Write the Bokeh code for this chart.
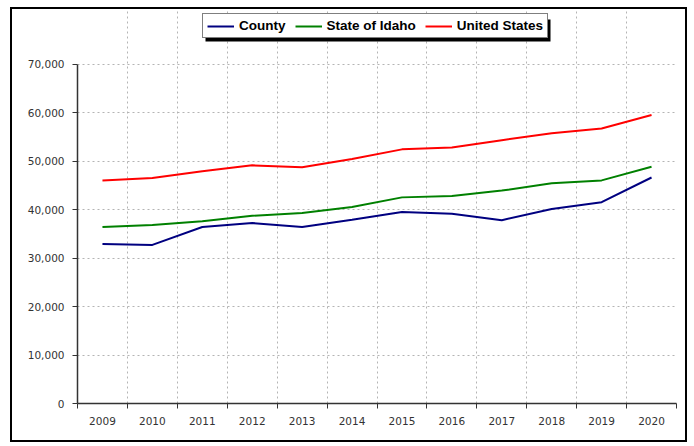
from bokeh.plotting import figure
from bokeh.models import (ColumnDataSource, FixedTicker, NumeralTickFormatter,
                          Legend, LegendItem, Range1d, BoxAnnotation)
from bokeh.embed import file_html
from bokeh.resources import INLINE

years = ["2009", "2010", "2011", "2012", "2013", "2014",
         "2015", "2016", "2017", "2018", "2019", "2020"]
county = [32900, 32700, 36400, 37200, 36400, 37900, 39500, 39100, 37800, 40100, 41500, 46600]
idaho = [36400, 36800, 37600, 38700, 39300, 40500, 42500, 42800, 43900, 45400, 46000, 48800]
usa = [46000, 46500, 47900, 49100, 48700, 50400, 52400, 52800, 54300, 55700, 56700, 59500]
series_names = ["County", "State of Idaho", "United States"]
series_colors = ["#000080", "#008000", "#FF0000"]
y_ticks = [0, 10000, 20000, 30000, 40000, 50000, 60000, 70000]
y_top = 70000

# frame spans the whole canvas height above the x axis so that the legend
# (drawn inside the frame) is not clipped; axis/grids stop at 70,000
frame_h = 394
axis_h = 339.5
y_end = y_top * frame_h / axis_h

xpos = [i + 0.5 for i in range(len(years))]
src = ColumnDataSource(dict(x=xpos, county=county, idaho=idaho, usa=usa))

p = figure(width=677, height=435, output_backend="svg", toolbar_location=None,
           x_range=Range1d(0, len(years)), y_range=Range1d(0, y_end),
           min_border_left=65, min_border_right=13, min_border_top=0,
           min_border_bottom=41)
p.styles = {"border": "2px solid black", "margin-left": "10px", "margin-top": "7px"}
p.outline_line_color = None
p.background_fill_color = "white"
p.border_fill_color = "white"

renderers = []
for col, c in zip(["county", "idaho", "usa"], series_colors):
    r = p.line("x", col, source=src, line_color=c, line_width=2)
    renderers.append(r)

# axes
label_font = "DejaVu Sans"
p.xaxis.ticker = FixedTicker(ticks=xpos, minor_ticks=list(range(len(years) + 1)))
p.xaxis.major_label_overrides = {x: y for x, y in zip(xpos, years)}
p.xaxis.major_tick_out = 0
p.xaxis.major_tick_in = 0
p.xaxis.minor_tick_out = 5
p.xaxis.minor_tick_in = 0
p.xaxis.major_label_standoff = 8
p.yaxis.ticker = FixedTicker(ticks=y_ticks)
p.yaxis.formatter = NumeralTickFormatter(format="0,0")
p.yaxis.bounds = (0, y_top)
p.yaxis.major_tick_out = 5
p.yaxis.major_tick_in = 0
p.yaxis.minor_tick_out = 0
p.yaxis.minor_tick_in = 0
p.yaxis.major_label_standoff = 8
for ax in (p.xaxis[0], p.yaxis[0]):
    ax.axis_line_color = "#333333"
    ax.axis_line_width = 1.5
    ax.major_tick_line_color = "#333333"
    ax.minor_tick_line_color = "#333333"
    ax.major_label_text_font = label_font
    ax.major_label_text_font_size = "10.5px"
    ax.major_label_text_color = "#333333"

p.xgrid.ticker = FixedTicker(ticks=list(range(1, len(years) + 1)))
p.xgrid.bounds = (0, y_top)
p.ygrid.ticker = FixedTicker(ticks=y_ticks[1:])
for g in (p.xgrid[0], p.ygrid[0]):
    g.grid_line_color = "#b4b4b4"
    g.grid_line_dash = "2 3"
    g.grid_line_width = 1

# legend shadow box (screen units relative to the plot frame)
lg_x, lg_y, lg_w, lg_h = 125, 365, 345, 22
shadow = BoxAnnotation(left=lg_x + 3, right=lg_x + 3 + lg_w, bottom=lg_y - 3, top=lg_y - 3 + lg_h,
                       left_units="screen", right_units="screen",
                       bottom_units="screen", top_units="screen",
                       fill_color="black", fill_alpha=1, line_color=None)
p.add_layout(shadow)

items = [LegendItem(label=n, renderers=[r]) for n, r in zip(series_names, renderers)]
legend = Legend(items=items, location=(lg_x, lg_y), orientation="horizontal",
                glyph_width=27, glyph_height=14, label_height=14,
                label_standoff=5, spacing=9, padding=4, margin=0,
                label_text_font="Liberation Sans", label_text_font_style="bold",
                label_text_font_size="13.5px", label_text_color="black",
                border_line_color="black", border_line_width=1.5,
                background_fill_color="white", background_fill_alpha=1)
p.add_layout(legend, "center")

open("out.html", "w").write(file_html(p, INLINE))
